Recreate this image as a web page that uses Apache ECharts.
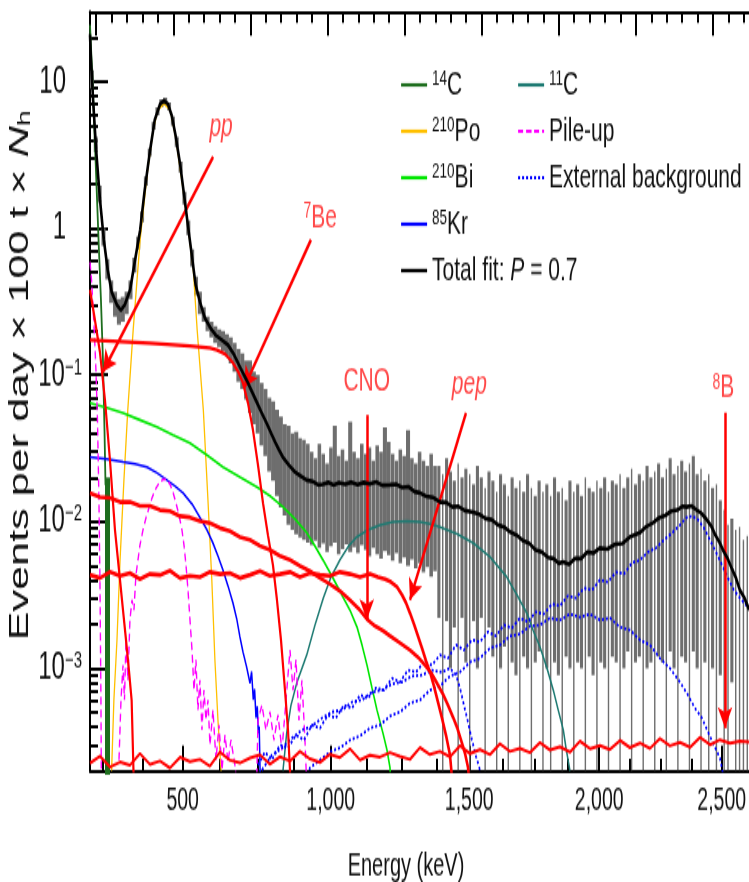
<!DOCTYPE html>
<html><head><meta charset="utf-8">
<script src="https://cdn.jsdelivr.net/npm/echarts@6/dist/echarts.min.js"></script>
<style>
html,body{margin:0;padding:0;background:#fff;overflow:hidden;}
#wrap{width:749px;height:882px;overflow:hidden;position:relative;background:#fff;}
#chart{width:749px;height:551px;transform-origin:0 0;}
</style></head><body>
<div id="wrap"><div id="chart"></div></div>
<script>
// ---------------- DATA (x = N_h hit scale of the figure, y = events per day x 100 t x N_h) ----------------
const energyTickLabels = ['500', '1,000', '1,500', '2,000', '2,500'];
const energyTickNh = [212.2, 404.2, 583.9, 752.5, 911.3];
const energyMinorNh = [108.4, 160.3, 260.6, 309.9, 356.6, 450.8, 496.2, 541.6, 626.7, 669.1, 711.5, 792.4, 832.2, 872.4];
const topMajorNh = [100, 200, 300, 400, 500, 600, 700, 800, 900];
const topMinorNh = [120, 140, 160, 180, 220, 240, 260, 280, 320, 340, 360, 380, 420, 440, 460, 480, 520, 540, 560, 580,
  620, 640, 660, 680, 720, 740, 760, 780, 820, 840, 860, 880, 920, 940];
const yTickValues = [0.001, 0.01, 0.1, 1, 10];
const yTickBase = ['10', '10', '10', '1', '10'];
const yTickExp = ['\u22123', '\u22122', '\u22121', '', ''];
const yMinorValues = [3e-4, 4e-4, 5e-4, 6e-4, 7e-4, 8e-4, 9e-4, 2e-3, 3e-3, 4e-3, 5e-3, 6e-3, 7e-3, 8e-3, 9e-3,
  0.02, 0.03, 0.04, 0.05, 0.06, 0.07, 0.08, 0.09, 0.2, 0.3, 0.4, 0.5, 0.6, 0.7, 0.8, 0.9, 2, 3, 4, 5, 6, 7, 8, 9, 20];

// measured spectrum (grey error bars): bins of 5 N_h starting at 92; lower end 0 = error bar reaches below the axis
const dataBinStart = 92;
const dataBinWidth = 5;
const dataHi = [12, 4.2, 1.95, 1.0, 0.62, 0.44, 0.37, 0.33, 0.34, 0.37, 0.44, 0.63, 0.88, 1.3, 2.25, 3.5, 5.3, 6.7, 7.6, 7.8,
  7.2, 5.8, 4.2, 2.85, 1.78, 1.13, 0.72, 0.47, 0.37, 0.29, 0.25, 0.23, 0.215, 0.205, 0.2, 0.19, 0.18, 0.165, 0.15, 0.14,
  0.125, 0.125, 0.105, 0.1, 0.088, 0.08, 0.07, 0.066, 0.058, 0.052, 0.046, 0.045, 0.04, 0.041, 0.037, 0.036, 0.034,
  0.030, 0.027, 0.034, 0.029, 0.025, 0.032, 0.045, 0.028, 0.031, 0.026, 0.048, 0.030, 0.027, 0.034, 0.029, 0.032, 0.026,
  0.033, 0.030, 0.044, 0.035, 0.029, 0.026, 0.031, 0.028, 0.042, 0.027, 0.025, 0.030, 0.026, 0.024, 0.029, 0.024,
  0.024, 0.021, 0.027, 0.022, 0.019, 0.025, 0.020, 0.023, 0.021, 0.018, 0.024, 0.020, 0.017, 0.022,
  0.019, 0.016, 0.021, 0.018, 0.015, 0.020, 0.017, 0.019, 0.016, 0.021, 0.017, 0.015, 0.019, 0.016,
  0.018, 0.015, 0.020, 0.016, 0.017, 0.014, 0.019, 0.016, 0.018, 0.015, 0.020, 0.017, 0.016, 0.019,
  0.017, 0.020, 0.016, 0.019, 0.018, 0.021, 0.017, 0.020, 0.023, 0.018, 0.021, 0.019, 0.024, 0.020,
  0.022, 0.025, 0.020, 0.023, 0.027, 0.021, 0.024, 0.026, 0.022, 0.025, 0.028, 0.021, 0.023, 0.019,
  0.021, 0.017, 0.018, 0.014, 0.012, 0.0095, 0.0105, 0.0088, 0.0092, 0.0075, 0.0080, 0.0068];
const dataLo = [9, 3.3, 1.5, 0.76, 0.45, 0.31, 0.25, 0.22, 0.23, 0.26, 0.33, 0.5, 0.72, 1.1, 1.95, 3.1, 4.7, 5.9, 6.7, 6.9,
  6.4, 5.0, 3.6, 2.4, 1.45, 0.9, 0.55, 0.35, 0.26, 0.23, 0.2, 0.18, 0.165, 0.155, 0.145, 0.135, 0.12, 0.105, 0.09, 0.08,
  0.068, 0.055, 0.046, 0.04, 0.033, 0.028, 0.022, 0.019, 0.015, 0.0125, 0.011, 0.0095, 0.0088, 0.0082, 0.0078, 0.0075, 0.0072,
  0.0069, 0.0074, 0.0066, 0.0071, 0.0062, 0.0068, 0.0072, 0.0060, 0.0065, 0.0070, 0.0062, 0.0067, 0.0061, 0.0069, 0.0064,
  0.0058, 0.0066, 0.0060, 0.0056, 0.0063, 0.0059, 0.0054, 0.0061, 0.0052, 0.0057, 0.0050, 0.0055, 0.0048, 0.0052, 0.0045,
  0.0049, 0.0042, 0.0046,
  0.0022, 0, 0.0021, 0.0010, 0.0019, 0, 0.0022, 0.0011, 0, 0.0021, 0.0010, 0.0022, 0, 0.0019,
  0.0012, 0, 0.0010, 0.0014, 0, 0.0011, 0.0009, 0, 0.0012, 0.0010, 0, 0.0011, 0.0013, 0,
  0.0010, 0, 0.0011, 0.0009, 0, 0.0012, 0.0010, 0, 0.0011, 0.0010, 0, 0.0012, 0.0009, 0,
  0.0011, 0.0010, 0, 0.0012, 0.0011, 0, 0.0010, 0.0013, 0, 0.0011, 0.0012, 0, 0.0010, 0.0011,
  0, 0.0012, 0.0011, 0, 0.0013, 0.0010, 0, 0.0012, 0.0011, 0, 0.0013, 0.0010, 0, 0.0011,
  0, 0.0010, 0, 0.0009, 0, 0, 0.0008, 0, 0, 0, 0, 0];

const totalFit = [[92, 21], [93, 15], [96, 7.5], [100, 3.4], [105, 1.56], [110, 0.83], [115, 0.52], [120, 0.37], [127, 0.30],
  [132, 0.277], [137, 0.30], [144, 0.38], [150, 0.59], [157, 0.97], [163, 1.83], [170, 3.43], [176, 5.5], [183, 7.06],
  [188, 7.4], [193, 7.06], [198, 5.9], [203, 4.3], [209, 2.7], [214, 1.69], [219, 1.05], [224, 0.66], [229, 0.41],
  [235, 0.31], [241, 0.245], [248, 0.21], [255, 0.187], [263, 0.173], [271, 0.16], [279, 0.137], [287, 0.112],
  [295, 0.0925], [307, 0.0675], [314, 0.056], [321, 0.047], [327, 0.040], [332, 0.035], [337, 0.031], [342, 0.0276],
  [350, 0.0243], [358, 0.0218], [365, 0.0205], [373, 0.0192], [381, 0.0188], [388, 0.0178], [394, 0.018], [401, 0.0185],
  [408, 0.0178], [415, 0.0184], [423, 0.018], [431, 0.0186], [439, 0.0179], [447, 0.0185], [455, 0.0181], [463, 0.0187],
  [471, 0.0177], [481, 0.0178], [489, 0.0180], [497, 0.0171], [505, 0.0173], [513, 0.0160], [520, 0.0157], [528, 0.0149],
  [537, 0.0146], [546, 0.0136], [554, 0.0135], [562, 0.0126], [570, 0.0127], [578, 0.0119], [589, 0.0116], [597, 0.0112],
  [605, 0.0105], [613, 0.0103], [621, 0.0095], [629, 0.0092], [637, 0.0085], [645, 0.0081], [654, 0.0074], [662, 0.0071],
  [670, 0.0064], [678, 0.0062], [686, 0.0057], [693, 0.0056], [700, 0.0052], [706, 0.0053], [713, 0.0051], [721, 0.0056],
  [729, 0.0056], [737, 0.0062], [745, 0.0061], [753, 0.0066], [763, 0.0065], [773, 0.0070], [783, 0.0071], [793, 0.0079],
  [805, 0.0084], [813, 0.0092], [822, 0.0098], [830, 0.0106], [838, 0.0110], [846, 0.0118], [854, 0.0120], [860, 0.0127],
  [866, 0.0126], [872, 0.0128], [879, 0.0120], [885, 0.0114], [892, 0.0103], [898, 0.0093], [903, 0.0081], [908, 0.0073],
  [913, 0.0064], [919, 0.0056], [925, 0.0047], [930, 0.0041], [935, 0.0034], [941, 0.0030], [947, 0.0025]];

const c14 = [[92, 24.4], [95.8, 8.8], [99.7, 2.5], [103.6, 0.713], [106.2, 0.325], [108.8, 0.127], [110.8, 0.042], [112.1, 0.0178]];
const c14Tail = [[114.7, 0.02], [114.7, 0.0001]];
const po210 = [[120, 0.0002], [123, 0.00061], [127, 0.00156], [131, 0.0055], [136, 0.0192], [141, 0.0577], [148, 0.203],
  [157, 0.834], [166, 2.31], [174, 4.69], [180, 6.43], [188, 7.06], [196, 6.43], [203, 4.2], [211, 2.14], [218, 1.14],
  [226, 0.52], [231, 0.203], [239, 0.0577], [245, 0.014], [250, 0.004], [254, 0.00114], [258, 0.00044], [262, 0.0002]];
const bi210 = [[92, 0.0644], [114, 0.0596], [134.8, 0.055], [156.8, 0.0493], [178.9, 0.0442], [199.6, 0.039], [221.7, 0.0344],
  [243.7, 0.0285], [264.5, 0.0236], [286.5, 0.0201], [308.6, 0.0172], [325.4, 0.01496], [342.3, 0.0126], [357.8, 0.01042],
  [373.4, 0.00836], [383.8, 0.00681], [394.2, 0.00547], [407.2, 0.00412], [420.1, 0.00306], [429.2, 0.00249],
  [438.3, 0.00191], [444.8, 0.00144], [451.3, 0.00105], [457.8, 0.000732], [464.2, 0.000519], [472, 0.000361],
  [477.2, 0.000277], [481.1, 0.00021], [484, 0.0001]];
const kr85 = [[92, 0.0276], [114, 0.0267], [134.8, 0.0255], [150.3, 0.0247], [165.9, 0.0236], [178.9, 0.0215], [191.8, 0.0192],
  [202.2, 0.0175], [212.6, 0.0157], [224.3, 0.0132], [234.6, 0.0107], [243.7, 0.00877], [251.5, 0.00714], [258, 0.00582],
  [264.5, 0.00468], [271, 0.00364], [277.4, 0.00279], [282.6, 0.00213], [286.5, 0.00163], [290.4, 0.00129],
  [295.2, 0.00102], [299.5, 0.00079], [301.6, 0.00095], [303.8, 0.00061], [305.5, 0.00072], [307.3, 0.00046],
  [309, 0.00055], [310.3, 0.00036], [311.5, 0.0004], [312.5, 0.00021], [314, 0.0001]];
const c11 = [[342.3, 0.0002], [347.1, 0.000361], [352.7, 0.000561], [360.1, 0.000792], [373.1, 0.00123], [383.8, 0.00197],
  [394.6, 0.00301], [404.6, 0.00419], [416.2, 0.00547], [426.6, 0.00671], [437.9, 0.00785], [452.5, 0.00877],
  [468.1, 0.00948], [485, 0.00993], [502.8, 0.0101], [520, 0.00993], [533, 0.00963], [546, 0.00919], [568, 0.00823],
  [589.2, 0.00714], [610.8, 0.00574], [632.5, 0.00419], [645.9, 0.00315], [658.5, 0.00238], [666.6, 0.00182],
  [675.6, 0.0014], [684.7, 0.001], [692.9, 0.00071], [699, 0.000527], [705.9, 0.000379], [709.4, 0.000286], [714.5, 0.0002]];
const pileUp = [[92, 0.59], [94, 0.444], [95.8, 0.30], [97.8, 0.187], [99.7, 0.108], [101.7, 0.0493], [103.6, 0.014],
  [104.9, 0.004], [106.2, 0.0006], [106.9, 0.0001], null,
  [129.6, 0.000237], [132.2, 0.000607], [134.8, 0.00105], [136.7, 0.000607], [138.7, 0.00156], [141.2, 0.000831],
  [143.8, 0.00213], [146.4, 0.00292], [149.0, 0.00249], [151.6, 0.00433], [154.2, 0.00547], [156.8, 0.00692],
  [160.7, 0.00876], [164.6, 0.0106], [168.5, 0.0124], [172.4, 0.0145], [176.3, 0.0164], [180.2, 0.0178], [184.0, 0.0189],
  [187.9, 0.0195], [191.8, 0.0192], [195.7, 0.018], [199.6, 0.0159], [203.5, 0.0134], [207.4, 0.0111], [211.3, 0.00876],
  [213.9, 0.00692], [216.5, 0.00506], [219.1, 0.00341], [221.7, 0.00213], [224.3, 0.00133], [226.9, 0.00071],
  [229.4, 0.00114], [232.0, 0.000519], [234.6, 0.000831], [237.2, 0.000379], [239.8, 0.00071], [242.4, 0.000443],
  [245.0, 0.000607], [247.6, 0.0003], [251.5, 0.000519], [255.4, 0.000237], [259.3, 0.00041], [263.2, 0.000202],
  [267.1, 0.00035], [271.0, 0.000229], [274.8, 0.000324], [280.0, 0.000218], [286.5, 0.0001], null,
  [307.3, 0.0001], [309.9, 0.000443], [315.0, 0.000561], [320.2, 0.000379], [325.4, 0.000503], [330.6, 0.000324],
  [335.8, 0.00048], [341.0, 0.000277], [346.2, 0.000607], [351.4, 0.00133], [355.3, 0.00071], [359.2, 0.00114],
  [363.0, 0.000443], [366.9, 0.000831], [370.8, 0.000324], [374.7, 0.0001]];
const extBkgTl = [[309.9, 0.000218], [318.9, 0.000268], [328.0, 0.000237], [338.4, 0.0003], [348.8, 0.000286], [359.1, 0.00035],
  [369.5, 0.000324], [379.9, 0.00041], [390.3, 0.000391], [400.6, 0.00048], [411.0, 0.000458], [421.4, 0.000561],
  [431.8, 0.000535], [442.2, 0.000656], [452.5, 0.000626], [462.9, 0.000733], [473.3, 0.00071], [483.7, 0.000857],
  [494.0, 0.000805], [504.4, 0.000972], [514.8, 0.000942], [525.2, 0.0011], [535.5, 0.00105], [545.9, 0.00123],
  [556.3, 0.00117], [566.7, 0.00144], [577.0, 0.00133], [587.4, 0.00156], [597.8, 0.00151], [608.2, 0.00177],
  [618.5, 0.00166], [628.9, 0.00197], [639.3, 0.00188], [649.7, 0.0022], [660.0, 0.00207], [670.4, 0.00242],
  [680.8, 0.00234], [691.2, 0.00274], [701.5, 0.00266], [711.9, 0.00311], [722.3, 0.00301], [732.7, 0.00352],
  [743.1, 0.00341], [753.4, 0.004], [763.8, 0.00387], [774.2, 0.00453], [784.5, 0.00439], [794.9, 0.00522],
  [805.3, 0.00547], [815.7, 0.0062], [826.1, 0.00661], [836.4, 0.00749], [846.8, 0.00836], [857.2, 0.00948],
  [865.0, 0.0106], [872.8, 0.0109], [880.5, 0.0103], [888.3, 0.00904], [896.1, 0.00749], [903.9, 0.0062],
  [911.7, 0.00506], [919.4, 0.00412], [927.2, 0.00341], [935.0, 0.00301], [942.8, 0.0027], [948.0, 0.00257]];
const extBkgBi = [[364.3, 0.00013], [377.3, 0.000209], [390.3, 0.000237], [403.2, 0.000268], [416.2, 0.000286], [429.2, 0.000324],
  [442.2, 0.000345], [455.1, 0.000391], [468.1, 0.00041], [481.1, 0.000472], [494.0, 0.000503], [507.0, 0.000579],
  [520.0, 0.000607], [532.9, 0.00071], [545.9, 0.000756], [558.9, 0.000885], [571.9, 0.000942], [584.8, 0.0011],
  [597.8, 0.00117], [610.8, 0.00137], [623.7, 0.00144], [636.7, 0.00166], [649.7, 0.00171], [662.6, 0.00194],
  [675.6, 0.00197], [688.6, 0.0022], [701.5, 0.00213], [714.5, 0.00234], [727.5, 0.00223], [740.5, 0.00234],
  [753.4, 0.00213], [766.4, 0.0022], [779.4, 0.00191], [792.3, 0.00182], [805.3, 0.00156], [818.3, 0.00144],
  [831.2, 0.00117], [844.2, 0.001], [857.2, 0.000805], [867.6, 0.000656], [876.6, 0.000535], [885.7, 0.000458],
  [893.5, 0.000367], [901.3, 0.0003], [909.0, 0.000244], [916.8, 0.00015]];
const extBkgK = [[315.0, 0.000202], [328.0, 0.000256], [341.0, 0.000286], [354.0, 0.000334], [366.9, 0.000379], [379.9, 0.000403],
  [392.9, 0.000458], [405.8, 0.000503], [418.8, 0.000519], [431.8, 0.000588], [444.7, 0.000607], [457.7, 0.000688],
  [470.7, 0.00071], [483.6, 0.00078], [496.6, 0.000805], [509.6, 0.000885], [522.6, 0.000899], [535.5, 0.000972],
  [548.5, 0.000942], [558.9, 0.001], [566.7, 0.000899], [571.9, 0.000733], [577.0, 0.000561], [582.2, 0.00043],
  [587.4, 0.000324], [592.6, 0.000252], [597.8, 0.000202], [601.7, 0.0001]];

const nuPP = [[92, 0.38], [98.4, 0.237], [104.9, 0.1435], [111.4, 0.0675], [117.9, 0.0263], [124.4, 0.00877], [130.9, 0.004],
  [134.8, 0.00249], [138.7, 0.00156], [142.5, 0.000972], [146, 0.000607], [148.4, 0.0002], [150, 0.0001]];
const nuBe7 = [[92, 0.173], [130.9, 0.169], [169.8, 0.165], [221.7, 0.158], [247.6, 0.153], [256.7, 0.148], [267.1, 0.139],
  [277.4, 0.121], [283.9, 0.106], [290.4, 0.0882], [296.9, 0.0644], [303.4, 0.0421], [309.9, 0.0243], [316.4, 0.0134],
  [322.8, 0.0081], [329.3, 0.00506], [334.5, 0.00292], [339.7, 0.00156], [344.9, 0.00071], [348.8, 0.000379],
  [351.4, 0.0002], [353, 0.0001]];
const nuCNO = [[92, 0.0157], [104.9, 0.0147], [117.9, 0.0145], [130.9, 0.0136], [143.8, 0.0136], [156.8, 0.0128], [169.8, 0.0128],
  [182.8, 0.012], [195.7, 0.0118], [208.7, 0.0109], [221.7, 0.0107], [234.6, 0.0101], [247.6, 0.00979], [260.6, 0.00904],
  [273.5, 0.00862], [286.5, 0.00785], [299.5, 0.00749], [312.5, 0.00682], [325.4, 0.0064], [338.4, 0.00583],
  [351.4, 0.00547], [364.3, 0.00498], [377.3, 0.0046], [390.3, 0.00412], [403.2, 0.00375], [416.2, 0.00336],
  [429.2, 0.00292], [442.2, 0.00249], [451.3, 0.00216], [461.6, 0.00194], [472.0, 0.0018], [481.1, 0.00166],
  [494.0, 0.00149], [507.0, 0.00133], [517.4, 0.00119], [526.5, 0.00105], [535.5, 0.000913], [543.3, 0.000768],
  [549.8, 0.000667], [556.3, 0.000561], [562.8, 0.000465], [568.0, 0.000397], [573.2, 0.000324], [578.3, 0.000264],
  [582.2, 0.000212], [586.1, 0.00013]];
const nuPep = [[92, 0.00433], [104.9, 0.00412], [117.9, 0.00453], [130.9, 0.00426], [143.8, 0.00446], [156.8, 0.00405],
  [169.8, 0.00439], [182.8, 0.00433], [195.7, 0.00462], [208.7, 0.00412], [221.7, 0.00426], [234.6, 0.00419],
  [247.6, 0.00453], [260.6, 0.00439], [273.5, 0.00446], [286.5, 0.00412], [299.5, 0.00433], [312.5, 0.0046],
  [325.4, 0.00426], [338.4, 0.00439], [351.4, 0.00453], [364.3, 0.00419], [377.3, 0.00446], [390.3, 0.00433],
  [403.2, 0.00426], [416.2, 0.00453], [429.2, 0.00439], [442.2, 0.00419], [455.1, 0.00439], [465.5, 0.00419],
  [474.6, 0.00406], [482.4, 0.00387], [490.2, 0.00358], [496.7, 0.00316], [501.9, 0.00279], [507.0, 0.00238],
  [512.2, 0.002], [517.4, 0.00166], [522.6, 0.00137], [527.8, 0.00112], [533.0, 0.000942], [538.1, 0.000756],
  [543.3, 0.000588], [548.5, 0.000458], [553.7, 0.00035], [558.9, 0.000256], [562.8, 0.00015]];
const nuB8 = [[92, 0.000225], [104.9, 0.000251], [117.9, 0.000212], [130.9, 0.000229], [143.8, 0.000218], [156.8, 0.000262],
  [169.8, 0.000221], [182.8, 0.000233], [195.7, 0.000209], [208.7, 0.000247], [221.7, 0.000231], [234.6, 0.000239],
  [247.6, 0.000215], [260.6, 0.000268], [273.5, 0.000236], [286.5, 0.000226], [299.5, 0.000244], [312.5, 0.000257],
  [325.4, 0.000222], [338.4, 0.000249], [351.4, 0.000233], [364.3, 0.000271], [377.3, 0.000241], [390.3, 0.000228],
  [403.2, 0.000259], [416.2, 0.000246], [429.2, 0.000282], [442.2, 0.000237], [455.1, 0.000255], [468.1, 0.000248],
  [481.1, 0.000266], [494.0, 0.000251], [507.0, 0.000239], [520.0, 0.000288], [532.9, 0.000258], [545.9, 0.000271],
  [558.9, 0.000249], [571.9, 0.000296], [584.8, 0.000262], [597.8, 0.000279], [610.8, 0.000258], [623.7, 0.000305],
  [636.7, 0.000271], [649.7, 0.000284], [662.6, 0.000266], [675.6, 0.000311], [688.6, 0.000277], [701.5, 0.000291],
  [714.5, 0.000268], [727.5, 0.000318], [740.5, 0.000283], [753.4, 0.000297], [766.4, 0.000279], [779.4, 0.000322],
  [792.3, 0.000288], [805.3, 0.000309], [818.3, 0.000284], [831.2, 0.000331], [844.2, 0.000296], [857.2, 0.000312],
  [870.2, 0.000289], [883.2, 0.000338], [896.1, 0.000301], [909.1, 0.000325], [922.1, 0.000309], [935.0, 0.000319],
  [948.0, 0.000314]];

// annotations (neutrino labels and arrows, in data coordinates)
const annoText = ['{i|pp}', '{s|7}Be', 'CNO', '{i|pep}', '{s|8}B'];
const annoNh = [262, 390.5, 451, 584, 913.4];
const annoValue = [4.9, 1.18, 0.0896, 0.0855, 0.0811];
const arrowFrom = [[251.7, 3.07], [378.6, 0.834], [451, 0.0533], [579.7, 0.055], [915.6, 0.0553]];
const arrowTo = [[108.8, 0.105], [291.7, 0.0815], [451, 0.00213], [507.0, 0.00292], [915.6, 0.000391]];

// ---------------- LAYOUT ----------------
const K = 882 / 551;             // vertical stretch of the reference picture
document.getElementById('chart').style.transform = 'scaleY(' + K + ')';
const FONT = 'Liberation Sans, Arial, Helvetica, sans-serif';
const XMIN = 92, XMAX = 948, YMIN = 2e-4, YMAX = 30;

const chart = echarts.init(document.getElementById('chart'), null, { renderer: 'canvas' });

const bins = dataHi.map((h, i) => [dataBinStart + (i + 0.5) * dataBinWidth, h, dataLo[i]]);

function lineSeries(name, data, color, width, extra) {
  return Object.assign({
    type: 'line', name: name, data: data, xAxisIndex: 0, yAxisIndex: 0,
    showSymbol: false, symbol: 'none', silent: true, animation: false, clip: true, connectNulls: false,
    lineStyle: { color: color, width: width, type: 'solid' }, itemStyle: { color: color }, z: 3
  }, extra || {});
}

const yLabelRich = {
  b: { fontSize: 24, fontFamily: FONT, color: '#111' },
  s: { fontSize: 15, fontFamily: FONT, color: '#111', verticalAlign: 'top', lineHeight: 15 },
  sp: { width: 16 }
};

const legendRich = {
  s: { fontSize: 13.5, fontFamily: FONT, color: '#111', verticalAlign: 'top', lineHeight: 13.5 },
  i: { fontSize: 21, fontFamily: FONT, color: '#111', fontStyle: 'italic' }
};
const legendNames = {
  '14C': '{s|14}C', '210Po': '{s|210}Po', '210Bi': '{s|210}Bi', '85Kr': '{s|85}Kr',
  'Total fit': 'Total fit: {i|P} = 0.7', '11C': '{s|11}C', 'Pile-up': 'Pile-up', 'External background': 'External background'
};
const legendCommon = {
  orient: 'vertical', top: 42, itemWidth: 26, itemHeight: 2, itemGap: 7, selectedMode: false,
  formatter: n => legendNames[n],
  lineStyle: { width: 2.2 },
  textStyle: { fontSize: 21, fontFamily: FONT, color: '#111', lineHeight: 22, rich: legendRich },
  padding: 0
};

const option = {
  animation: false,
  backgroundColor: '#fff',
  textStyle: { fontFamily: FONT },
  grid: { left: 90, top: 11.7 / K, width: (XMAX - XMIN) * 0.771, height: 759 / K, containLabel: false, outerBoundsMode: 'none' },
  legend: [
    Object.assign({ left: 400, data: ['14C', '210Po', '210Bi', '85Kr', 'Total fit'] }, legendCommon),
    Object.assign({ left: 517, data: ['11C', 'Pile-up', 'External background'] }, legendCommon)
  ],
  xAxis: [
    {
      type: 'value', min: XMIN, max: XMAX, position: 'bottom',
      axisLine: { show: true, onZero: false, lineStyle: { color: '#000', width: 2 } },
      axisTick: { show: true, inside: true, length: 25 / K, customValues: energyTickNh, lineStyle: { color: '#000', width: 2 } },
      axisLabel: {
        show: true, customValues: energyTickNh, margin: 9, fontSize: 19.5, fontFamily: FONT, color: '#111',
        formatter: v => { const i = energyTickNh.findIndex(t => Math.abs(t - v) < 0.01); return i >= 0 ? energyTickLabels[i] : ''; }
      },
      splitLine: { show: false },
      name: 'Energy (keV)', nameLocation: 'middle', nameGap: 50.5, nameMoveOverlap: false,
      nameTextStyle: { fontSize: 20, fontFamily: FONT, color: '#111', padding: [0, 28, 0, 0] }
    },
    {
      type: 'value', min: XMIN, max: XMAX, position: 'bottom',
      axisLine: { show: false, onZero: false },
      axisTick: { show: true, inside: true, length: 12 / K, customValues: energyMinorNh, lineStyle: { color: '#000', width: 2 } },
      axisLabel: { show: false }, splitLine: { show: false }
    },
    {
      type: 'value', min: XMIN, max: XMAX, position: 'top',
      axisLine: { show: true, onZero: false, lineStyle: { color: '#000', width: 2 } },
      axisTick: { show: true, inside: true, length: 24 / K, customValues: topMajorNh, lineStyle: { color: '#000', width: 2 } },
      axisLabel: { show: false }, splitLine: { show: false }
    },
    {
      type: 'value', min: XMIN, max: XMAX, position: 'top',
      axisLine: { show: false, onZero: false },
      axisTick: { show: true, inside: true, length: 11 / K, customValues: topMinorNh, lineStyle: { color: '#000', width: 2 } },
      axisLabel: { show: false }, splitLine: { show: false }
    }
  ],
  yAxis: [
    {
      type: 'log', logBase: 10, min: YMIN, max: YMAX, position: 'left',
      axisLine: { show: true, onZero: false, lineStyle: { color: '#000', width: 2 } },
      axisTick: { show: true, inside: true, length: 18, lineStyle: { color: '#000', width: 2 } },
      axisLabel: {
        show: true, margin: 8, showMinLabel: false, showMaxLabel: false, rich: yLabelRich,
        formatter: v => {
          const i = yTickValues.findIndex(t => Math.abs(Math.log10(t) - Math.log10(v)) < 1e-6);
          if (i < 0) return '';
          return '{b|' + yTickBase[i] + '}' + (yTickExp[i] ? '{s|' + yTickExp[i] + '}' : '{sp|}');
        }
      },
      splitLine: { show: false },
      name: '{pad|}Events per day \u00d7 100 t \u00d7 {i|N}{sub|h}', nameLocation: 'middle', nameRotate: 90, nameGap: 56,
      nameMoveOverlap: false,
      nameTextStyle: {
        fontSize: 27, fontFamily: FONT, color: '#111',
        rich: { pad: { width: 20 },
                i: { fontSize: 27, fontStyle: 'italic', fontFamily: FONT, color: '#111' },
                sub: { fontSize: 18, fontFamily: FONT, color: '#111', verticalAlign: 'bottom' } }
      }
    },
    {
      type: 'value', min: Math.log10(YMIN), max: Math.log10(YMAX), position: 'left',
      axisLine: { show: false, onZero: false },
      axisTick: { show: true, inside: true, length: 8, customValues: yMinorValues.map(v => Math.log10(v)), lineStyle: { color: '#000', width: 2 } },
      axisLabel: { show: false }, splitLine: { show: false }
    }
  ],
  series: [
    {
      type: 'custom', name: 'Data', data: bins, xAxisIndex: 0, yAxisIndex: 0, encode: { x: 0, y: 1 },
      silent: true, clip: true, z: 1,
      renderItem: function (params, api) {
        const n = api.value(0), hi = api.value(1), lo = api.value(2);
        const cs = params.coordSys;
        const a = api.coord([n - dataBinWidth / 2, hi]);
        const b = api.coord([n + dataBinWidth / 2, hi]);
        const xc = (a[0] + b[0]) / 2;
        let bw;
        if (lo <= 0) bw = 1.4;
        else if (hi > 0.04) bw = (b[0] - a[0]) * 1.05;
        else if (lo > 0.004) bw = (b[0] - a[0]) * 0.92;
        else bw = (b[0] - a[0]) * 0.8;
        const yBot = lo > 0 ? api.coord([n, lo])[1] : cs.y + cs.height;
        return { type: 'rect', shape: { x: xc - bw / 2, y: a[1], width: bw, height: Math.max(1, yBot - a[1]) },
                 style: { fill: '#6e6e6e' } };
      }
    },
    lineSeries('14C', c14, '#1e6e1e', 1.8),
    lineSeries('14C', c14Tail, '#1e6e1e', 5),
    lineSeries('210Po', po210, '#ffc000', 1.3),
    lineSeries('210Bi', bi210, '#00e600', 1.6),
    lineSeries('85Kr', kr85, '#0000ff', 1.5),
    lineSeries('11C', c11, '#1d7a72', 1.5),
    lineSeries('Pile-up', pileUp, '#ff00ff', 1.4, { lineStyle: { color: '#ff00ff', width: 1.4, type: [5, 3] } }),
    lineSeries('External background', extBkgTl, '#0000ff', 1.8, { lineStyle: { color: '#0000ff', width: 1.8, type: [2, 2] } }),
    lineSeries('External background', extBkgBi, '#0000ff', 1.8, { lineStyle: { color: '#0000ff', width: 1.8, type: [2, 2] } }),
    lineSeries('External background', extBkgK, '#0000ff', 1.8, { lineStyle: { color: '#0000ff', width: 1.8, type: [2, 2] } }),
    lineSeries('pp', nuPP, '#ff0000', 2.2, { z: 4 }),
    lineSeries('7Be', nuBe7, '#ff0000', 2.2, { z: 4 }),
    lineSeries('CNO', nuCNO, '#ff0000', 2.6, { z: 4 }),
    lineSeries('pep', nuPep, '#ff0000', 2.6, { z: 4 }),
    lineSeries('8B', nuB8, '#ff0000', 2.0, { z: 4 }),
    lineSeries('Total fit', totalFit, '#000000', 2.6, { z: 5 }),
    {
      type: 'scatter', name: 'Annotations', xAxisIndex: 0, yAxisIndex: 0, silent: true, z: 6,
      symbolSize: 1, itemStyle: { color: 'rgba(0,0,0,0)' },
      data: annoNh.map((n, i) => ({ value: [n, annoValue[i]], label: { formatter: annoText[i] } })),
      label: {
        show: true, position: 'inside', color: '#ff1a1a', fontSize: 21, fontFamily: FONT,
        rich: {
          i: { fontSize: 21, fontStyle: 'italic', color: '#ff1a1a', fontFamily: FONT },
          s: { fontSize: 14, color: '#ff1a1a', fontFamily: FONT, verticalAlign: 'top', lineHeight: 14 }
        }
      },
      markLine: {
        silent: true, animation: false, symbol: ['none', 'arrow'], symbolSize: [11, 13],
        label: { show: false },
        lineStyle: { color: '#ff0000', width: 2.5, type: 'solid' },
        data: arrowFrom.map((f, i) => [{ coord: f }, { coord: arrowTo[i] }])
      }
    }
  ]
};
chart.setOption(option);
</script>
</body></html>
